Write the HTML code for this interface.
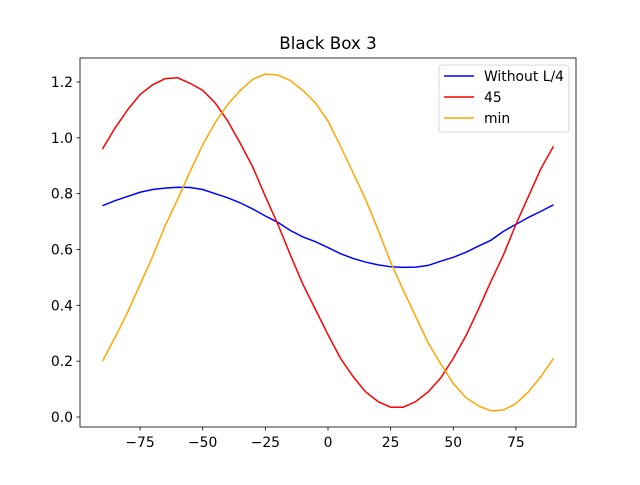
<!DOCTYPE html>
<html><head><meta charset="utf-8"><style>body{margin:0;background:#fff}svg text{font-family:"DejaVu Sans","Liberation Sans",sans-serif}</style></head>
<body>
<svg id="chart" width="640" height="480" viewBox="0 0 640 480" xmlns="http://www.w3.org/2000/svg">
<rect x="0" y="0" width="640" height="480" fill="#fff"/>
<text x="328" y="49" font-size="16.7" text-anchor="middle">Black Box 3</text>
<g id="series"></g>
<rect x="80" y="58" width="496" height="369" fill="none" stroke="#000" stroke-width="0.8"/>
<g id="axes"></g>
<g>
<rect x="439" y="65" width="130" height="67" rx="3" fill="#fff" fill-opacity="0.8" stroke="#ccc" stroke-width="0.8"/>
<line x1="444" y1="76" x2="474" y2="76" stroke="blue" stroke-width="1.5"/>
<text x="484" y="81" font-size="13.9">Without L/4</text>
<line x1="444" y1="97" x2="474" y2="97" stroke="red" stroke-width="1.5"/>
<text x="484" y="102" font-size="13.9">45</text>
<line x1="444" y1="118" x2="474" y2="118" stroke="orange" stroke-width="1.5"/>
<text x="484" y="123" font-size="13.9">min</text>
</g>
</svg>
<script>
const angles = [-90,-85,-80,-75,-70,-65,-60,-55,-50,-45,-40,-35,-30,-25,-20,-15,-10,-5,0,5,10,15,20,25,30,35,40,45,50,55,60,65,70,75,80,85,90];
const blueVals = [0.757,0.775,0.79,0.805,0.815,0.82,0.823,0.822,0.815,0.80,0.785,0.767,0.745,0.72,0.697,0.668,0.645,0.628,0.607,0.585,0.568,0.555,0.545,0.538,0.536,0.537,0.543,0.558,0.572,0.59,0.612,0.633,0.665,0.69,0.715,0.737,0.76];
const redVals = [0.96,1.035,1.10,1.155,1.19,1.212,1.215,1.195,1.17,1.125,1.06,0.98,0.895,0.79,0.69,0.58,0.475,0.385,0.295,0.21,0.145,0.09,0.055,0.035,0.035,0.055,0.09,0.14,0.21,0.29,0.385,0.485,0.58,0.69,0.79,0.89,0.97];
const orangeVals = [0.20,0.285,0.375,0.475,0.575,0.685,0.78,0.88,0.975,1.055,1.12,1.17,1.21,1.228,1.225,1.205,1.17,1.125,1.06,0.97,0.875,0.78,0.67,0.555,0.455,0.36,0.265,0.19,0.12,0.07,0.04,0.022,0.025,0.048,0.09,0.145,0.21];
const xTicks = [-75,-50,-25,0,25,50,75];
const yTicks = [0.0,0.2,0.4,0.6,0.8,1.0,1.2];
const NS="http://www.w3.org/2000/svg";
function xs(v){return 328+v*(451/180);}
function ys(v){return 417-v*(335/1.2);}
const sg=document.getElementById('series');
[[blueVals,'blue','line-without-l4'],[redVals,'red','line-45'],[orangeVals,'orange','line-min']].forEach(([vals,col,name])=>{
  const p=document.createElementNS(NS,'polyline');
  
  
  p.setAttribute('points',vals.map((v,i)=>xs(angles[i]).toFixed(2)+','+ys(v).toFixed(2)).join(' '));
  p.setAttribute('fill','none');p.setAttribute('stroke',col);p.setAttribute('stroke-width','1.5');
  sg.appendChild(p);
});
const ag=document.getElementById('axes');
xTicks.forEach(t=>{
  const l=document.createElementNS(NS,'line');
  
  
  l.setAttribute('x1',xs(t));l.setAttribute('x2',xs(t));l.setAttribute('y1',427);l.setAttribute('y2',430.5);l.setAttribute('stroke','#000');l.setAttribute('stroke-width','0.8');
  ag.appendChild(l);
  const tx=document.createElementNS(NS,'text');
  
  
  tx.setAttribute('x',xs(t));tx.setAttribute('y',447);tx.setAttribute('font-size','13.9');tx.setAttribute('text-anchor','middle');
  tx.textContent=t<0?'\u2212'+Math.abs(t):String(t);
  ag.appendChild(tx);
});
yTicks.forEach(t=>{
  const l=document.createElementNS(NS,'line');
  
  
  l.setAttribute('x1',76.5);l.setAttribute('x2',80);l.setAttribute('y1',ys(t));l.setAttribute('y2',ys(t));l.setAttribute('stroke','#000');l.setAttribute('stroke-width','0.8');
  ag.appendChild(l);
  const tx=document.createElementNS(NS,'text');
  
  
  tx.setAttribute('x',73);tx.setAttribute('y',ys(t)+5);tx.setAttribute('font-size','13.9');tx.setAttribute('text-anchor','end');
  tx.textContent=t.toFixed(1);
  ag.appendChild(tx);
});
</script>
</body></html>
